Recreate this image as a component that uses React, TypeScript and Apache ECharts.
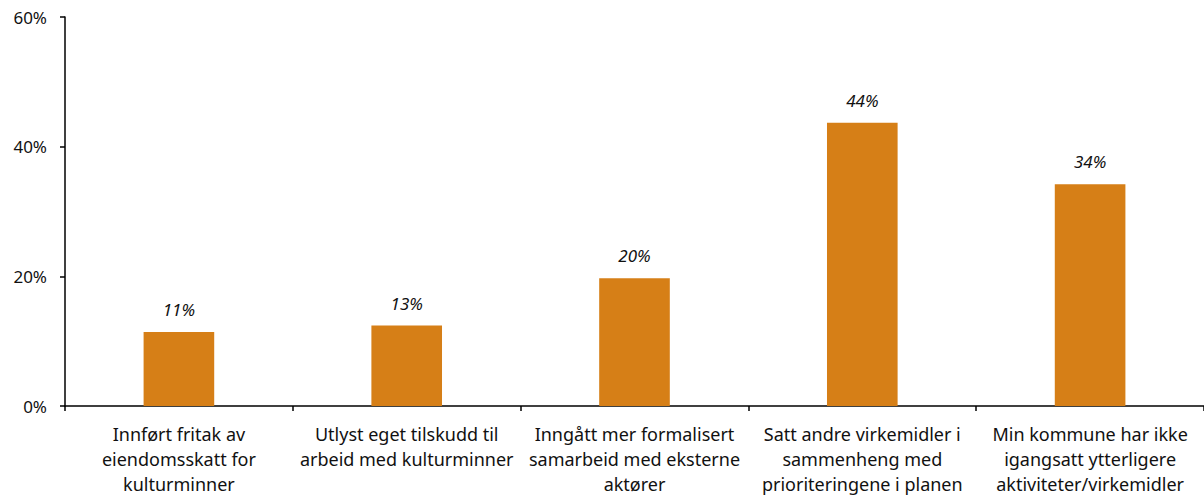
import React, { useEffect, useRef } from "react";
import * as echarts from "echarts";

const categories = [
  "Innført fritak av\neiendomsskatt for\nkulturminner",
  "Utlyst eget tilskudd til\narbeid med kulturminner",
  "Inngått mer formalisert\nsamarbeid med eksterne\naktører",
  "Satt andre virkemidler i\nsammenheng med\nprioriteringene i planen",
  "Min kommune har ikke\nigangsatt ytterligere\naktiviteter/virkemidler",
];
const values = [11.4, 12.4, 19.7, 43.7, 34.2];
const valueLabels = ["11%", "13%", "20%", "44%", "34%"];
const yTicks = [0, 20, 40, 60];

const FONT = "'Noto Sans', 'Open Sans', sans-serif";

export default function App() {
  const ref = useRef<HTMLDivElement>(null);
  useEffect(() => {
    if (!ref.current) return;
    const chart = echarts.init(ref.current, undefined, { renderer: "svg" });
    chart.setOption({
      animation: false,
      backgroundColor: "#ffffff",
      grid: { left: 65, right: -1, top: 17, bottom: 92, containLabel: false },
      xAxis: {
        type: "category",
        data: categories,
        axisLine: { lineStyle: { color: "#000000", width: 1.5 } },
        axisTick: { show: true, length: 5, lineStyle: { color: "#000000", width: 1.5 } },
        axisLabel: {
          color: "#111111",
          fontFamily: FONT,
          fontSize: 18,
          lineHeight: 25,
          margin: 15,
          interval: 0,
        },
      },
      yAxis: {
        type: "value",
        min: 0,
        max: 60,
        interval: 20,
        axisLine: { show: true, lineStyle: { color: "#000000", width: 1.5 } },
        axisTick: { show: true, length: 5, lineStyle: { color: "#000000", width: 1.5 } },
        splitLine: { show: false },
        axisLabel: {
          color: "#111111",
          fontFamily: FONT,
          fontSize: 17,
          margin: 18,
          formatter: (v: number) => (yTicks.includes(v) ? v + "%" : ""),
        },
      },
      series: [
        {
          type: "bar",
          data: values,
          barWidth: "31%",
          itemStyle: { color: "#d67f17" },
          label: {
            show: true,
            position: "top",
            distance: 14,
            color: "#111111",
            fontFamily: FONT,
            fontSize: 17,
            fontStyle: "italic",
            formatter: (p: any) => valueLabels[p.dataIndex],
          },
        },
      ],
    });
    return () => chart.dispose();
  }, []);
  return (
    <div
      ref={ref}
      style={{ position: "fixed", left: 0, top: 0, width: 1204, height: 498 }}
    />
  );
}
